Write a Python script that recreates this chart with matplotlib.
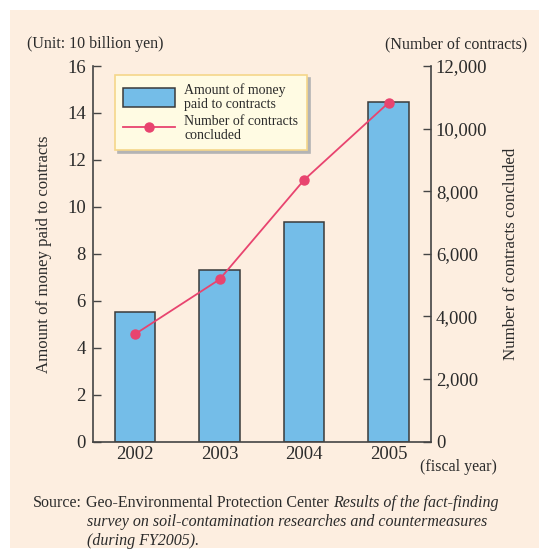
import matplotlib
matplotlib.use("Agg")
import matplotlib.pyplot as plt
from matplotlib.patches import Rectangle
from matplotlib.ticker import FuncFormatter

# data
years = ['2002', '2003', '2004', '2005']
money = [5.5, 7.3, 9.35, 14.45]          # 10 billion yen
contracts = [3430, 5180, 8360, 10830]    # number of contracts

plt.rcParams['font.family'] = ['Liberation Serif', 'DejaVu Serif']
txt = '#2b2b2b'
cream = '#fdeee0'
bar_col = '#74bde8'
line_col = '#e8446f'

fig = plt.figure(figsize=(5.39, 5.51), dpi=100, facecolor='white')
W, H = 539, 551
fig.patches.append(Rectangle((10 / W, 3 / H), 1, (H - 13) / H, transform=fig.transFigure,
                             facecolor=cream, edgecolor='none', zorder=-10))

ax = fig.add_axes([92.7 / W, 1 - 441.5 / H, (431 - 92.7) / W, (441.5 - 66) / H])
ax.patch.set_visible(False)
x = range(len(years))
bars = ax.bar(x, money, width=0.48, color=bar_col, edgecolor='#3a3a3a', linewidth=1.1,
              label='Amount of money\npaid to contracts')
ax.set_xlim(-0.5, 3.5)
ax.set_ylim(0, 16)
ax.set_yticks(range(0, 17, 2))
ax.set_xticks(list(x))
ax.set_xticklabels(years)
ax.tick_params(axis='x', length=0, pad=3, labelsize=13.5, colors=txt)
ax.tick_params(axis='y', direction='in', length=5.5, width=1, pad=5, labelsize=13.5,
               colors='#444444', labelcolor=txt)
for s in ['top', 'right']:
    ax.spines[s].set_visible(False)
for s in ['left', 'bottom']:
    ax.spines[s].set_color('#444444')
    ax.spines[s].set_linewidth(1.2)

ax2 = ax.twinx()
line, = ax2.plot(x, contracts, color=line_col, lw=1.3, marker='o', ms=6.5,
                 label='Number of contracts\nconcluded')
ax2.set_ylim(0, 12000)
ax2.set_yticks(range(0, 12001, 2000))
ax2.yaxis.set_major_formatter(FuncFormatter(lambda v, p: f'{int(v):,}'))
ax2.tick_params(axis='y', direction='in', length=5.5, width=1, pad=3.5, labelsize=13.5,
                colors='#444444', labelcolor=txt)
for s in ['top', 'left', 'bottom']:
    ax2.spines[s].set_visible(False)
ax2.spines['right'].set_color('#444444')
ax2.spines['right'].set_linewidth(1.2)

leg = ax2.legend([bars, line], [bars.get_label(), line.get_label()],
                 loc='upper left', bbox_to_anchor=((115 - 92.7) / 338.3, (441.5 - 75) / 375.5),
                 borderaxespad=0, fontsize=10, frameon=True, fancybox=False,
                 shadow={'color': '#b4b4b4', 'alpha': 1}, facecolor='#fffbe3',
                 edgecolor='#f5d68a', framealpha=1, handlelength=3.7, handleheight=1.7,
                 handletextpad=0.7, labelspacing=0.35, borderpad=0.6, numpoints=1)
leg.get_frame().set_linewidth(1.2)
for t in leg.get_texts():
    t.set_color(txt)
    t.set_linespacing(1.05)

fig.text(27 / W, 1 - 44 / H, '(Unit: 10 billion yen)', fontsize=11.5, color=txt,
         ha='left', va='center')
fig.text(527 / W, 1 - 44 / H, '(Number of contracts)', fontsize=11.5, color=txt,
         ha='right', va='center')
fig.text(44 / W, 1 - 254 / H, 'Amount of money paid to contracts', fontsize=12.1,
         color=txt, rotation=90, ha='center', va='center')
fig.text(511 / W, 1 - 254 / H, 'Number of contracts concluded', fontsize=12.2,
         color=txt, rotation=90, ha='center', va='center')
fig.text(497 / W, 1 - 467 / H, '(fiscal year)', fontsize=11.5, color=txt,
         ha='right', va='center')

fig.text(33 / W, 1 - 503 / H, 'Source:', fontsize=11.5, color=txt, ha='left', va='center')
t1 = fig.text(86 / W, 1 - 503 / H, 'Geo-Environmental Protection Center ', fontsize=11.5,
              color=txt, ha='left', va='center')
ax.annotate('Results of the fact-finding', xy=(1, 0), xycoords=t1, fontsize=11.5,
            color=txt, style='italic', ha='left', va='bottom', annotation_clip=False)
fig.text(87 / W, 1 - 522 / H, 'survey on soil-contamination researches and countermeasures',
         fontsize=11.5, color=txt, style='italic', ha='left', va='center')
fig.text(87 / W, 1 - 541 / H, '(during FY2005).', fontsize=11.5, color=txt,
         style='italic', ha='left', va='center')

fig.savefig('out.png', dpi=100, facecolor=fig.get_facecolor())
